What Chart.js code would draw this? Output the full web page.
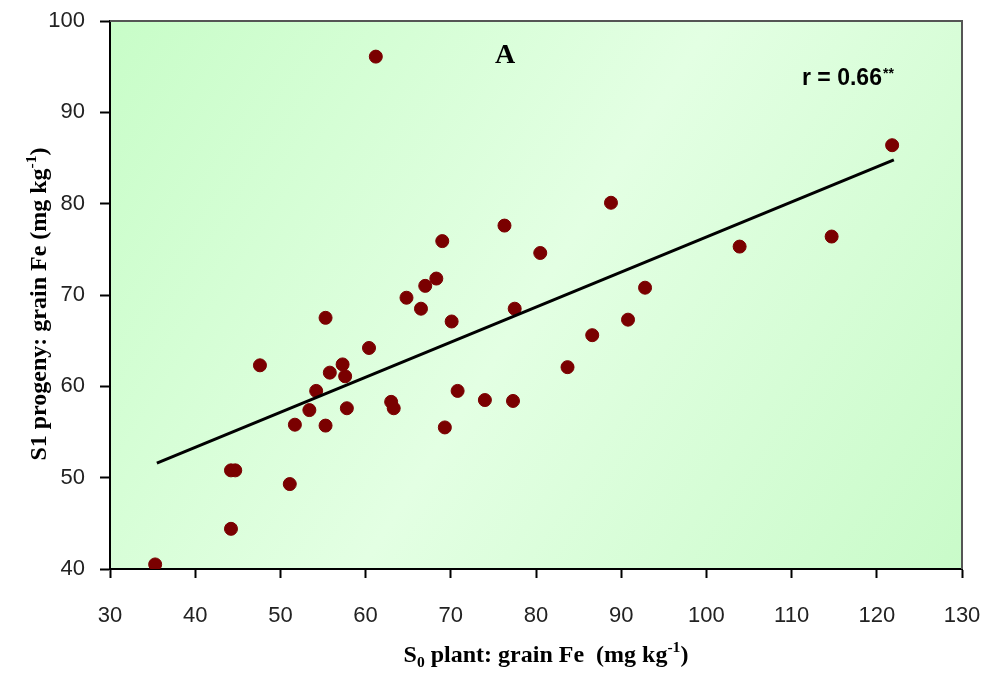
<!DOCTYPE html>
<html>
<head>
<meta charset="utf-8">
<script src="https://cdn.jsdelivr.net/npm/chart.js@4.4.1/dist/chart.umd.min.js"></script>
<style>
  html, body { margin: 0; padding: 0; background: #fff; }
  #chart { display: block; }
</style>
</head>
<body>
<canvas id="chart" width="987" height="673"></canvas>
<script>
// S0 plant grain Fe (x) vs S1 progeny grain Fe (y)
const s0Fe = [35.3, 44.2, 44.2, 44.7, 47.6, 51.1, 51.7, 53.4, 54.2, 55.3,
              55.3, 55.8, 57.3, 57.6, 57.8, 60.4, 61.2, 63.0, 63.3, 64.8,
              66.5, 67.0, 68.3, 69.0, 69.3, 70.1, 70.8, 74.0, 76.3, 77.3,
              77.5, 80.5, 83.7, 86.6, 88.8, 90.8, 92.8, 103.9, 114.7, 121.8];
const s1Fe = [40.5, 44.4, 50.8, 50.8, 62.3, 49.3, 55.8, 57.4, 59.5, 67.5,
              55.7, 61.5, 62.4, 61.1, 57.6, 64.2, 96.1, 58.3, 57.6, 69.7,
              68.5, 71.0, 71.8, 75.9, 55.5, 67.1, 59.5, 58.5, 77.6, 58.4,
              68.5, 74.6, 62.1, 65.6, 80.1, 67.3, 70.8, 75.3, 76.4, 86.4];

// fitted line end points
const trendX = [35.5, 122];
const trendY = [51.6, 84.8];

const xMin = 30, xMax = 130, yMin = 40, yMax = 100, step = 10;

const panelLabel = 'A';
const corrText = 'r = 0.66';
const corrStars = '**';

const points = s0Fe.map((x, i) => ({ x: x, y: s1Fe[i] }));
const trend = trendX.map((x, i) => ({ x: x, y: trendY[i] }));

const tickFont = { family: '"Liberation Sans", Arial, sans-serif', size: 22 };
const titleFamily = '"Liberation Serif", "Times New Roman", serif';

// draws a run of text pieces (normal / sub / sup) centred on cx
function drawRich(ctx, parts, cx, baseY, size) {
    let total = 0;
    parts.forEach(p => {
        const s = p.small ? size * 0.65 : size;
        ctx.font = 'bold ' + s + 'px ' + titleFamily;
        p.w = ctx.measureText(p.t).width;
        p.s = s;
        total += p.w;
    });
    let x = cx - total / 2;
    ctx.textAlign = 'left';
    ctx.textBaseline = 'alphabetic';
    parts.forEach(p => {
        ctx.font = 'bold ' + p.s + 'px ' + titleFamily;
        ctx.fillText(p.t, x, baseY + (p.dy || 0));
        x += p.w;
    });
}

const decor = {
    id: 'decor',
    beforeDraw(chart) {
        const { ctx, chartArea: a } = chart;
        const g = ctx.createLinearGradient(a.left, a.top, a.right, a.bottom);
        g.addColorStop(0, '#c8fdc8');
        g.addColorStop(0.5, '#e3ffe3');
        g.addColorStop(1, '#c9fbc9');
        ctx.save();
        ctx.fillStyle = g;
        ctx.fillRect(a.left, a.top, a.right - a.left, a.bottom - a.top);
        ctx.restore();
    },
    afterDraw(chart) {
        const { ctx, chartArea: a } = chart;
        ctx.save();
        // top and right frame
        ctx.strokeStyle = '#555';
        ctx.lineWidth = 2;
        ctx.beginPath();
        ctx.moveTo(a.left, a.top);
        ctx.lineTo(a.right, a.top);
        ctx.lineTo(a.right, a.bottom);
        ctx.stroke();

        ctx.fillStyle = '#000';
        // panel letter
        ctx.font = 'bold 28px ' + titleFamily;
        ctx.textAlign = 'center';
        ctx.textBaseline = 'alphabetic';
        ctx.fillText(panelLabel, 505, 63);

        // correlation
        ctx.font = 'bold 23px "Liberation Sans Narrow", "Liberation Sans", Arial, sans-serif';
        ctx.textAlign = 'left';
        ctx.fillText(corrText, 802, 85);
        const w = ctx.measureText(corrText).width;
        ctx.font = 'bold 14px "Liberation Sans", Arial, sans-serif';
        ctx.fillText(corrStars, 802 + w + 1, 78);

        // x title
        drawRich(ctx, [
            { t: 'S' },
            { t: '0', small: true, dy: 5 },
            { t: ' plant: grain Fe  (mg kg' },
            { t: '-1', small: true, dy: -10 },
            { t: ')' }
        ], 546, 662, 24);

        // y title
        ctx.translate(46, 304);
        ctx.rotate(-Math.PI / 2);
        drawRich(ctx, [
            { t: 'S1 progeny: grain Fe (mg kg' },
            { t: '-1', small: true, dy: -10 },
            { t: ')' }
        ], 0, 0, 24);
        ctx.restore();
    }
};

new Chart(document.getElementById('chart'), {
    type: 'scatter',
    data: {
        datasets: [
            {
                type: 'line',
                data: trend,
                borderColor: '#000',
                borderWidth: 3,
                pointRadius: 0,
                fill: false,
                order: 0
            },
            {
                data: points,
                backgroundColor: '#7a0000',
                borderColor: '#7a0000',
                pointRadius: 6.5,
                pointHoverRadius: 6.5,
                order: 1
            }
        ]
    },
    options: {
        responsive: false,
        animation: false,
        devicePixelRatio: 1,
        layout: { padding: { top: 21, right: 25, left: 0, bottom: 0 } },
        plugins: {
            legend: { display: false },
            tooltip: { enabled: false }
        },
        scales: {
            x: {
                type: 'linear',
                min: xMin,
                max: xMax,
                afterFit: s => { s.height = 104; s.paddingLeft = 0; s.paddingRight = 0; },
                border: { color: '#000', width: 2 },
                grid: { drawOnChartArea: false, tickLength: 9, color: '#000', tickWidth: 2 },
                ticks: { stepSize: step, color: '#222', font: tickFont, padding: 25, maxRotation: 0 }
            },
            y: {
                type: 'linear',
                min: yMin,
                max: yMax,
                afterFit: s => { s.width = 110; s.paddingTop = 0; s.paddingBottom = 0; },
                border: { color: '#000', width: 2 },
                grid: { drawOnChartArea: false, tickLength: 10, color: '#000', tickWidth: 2 },
                ticks: { stepSize: step, color: '#222', font: tickFont, padding: 15 }
            }
        }
    },
    plugins: [decor]
});
</script>
</body>
</html>
